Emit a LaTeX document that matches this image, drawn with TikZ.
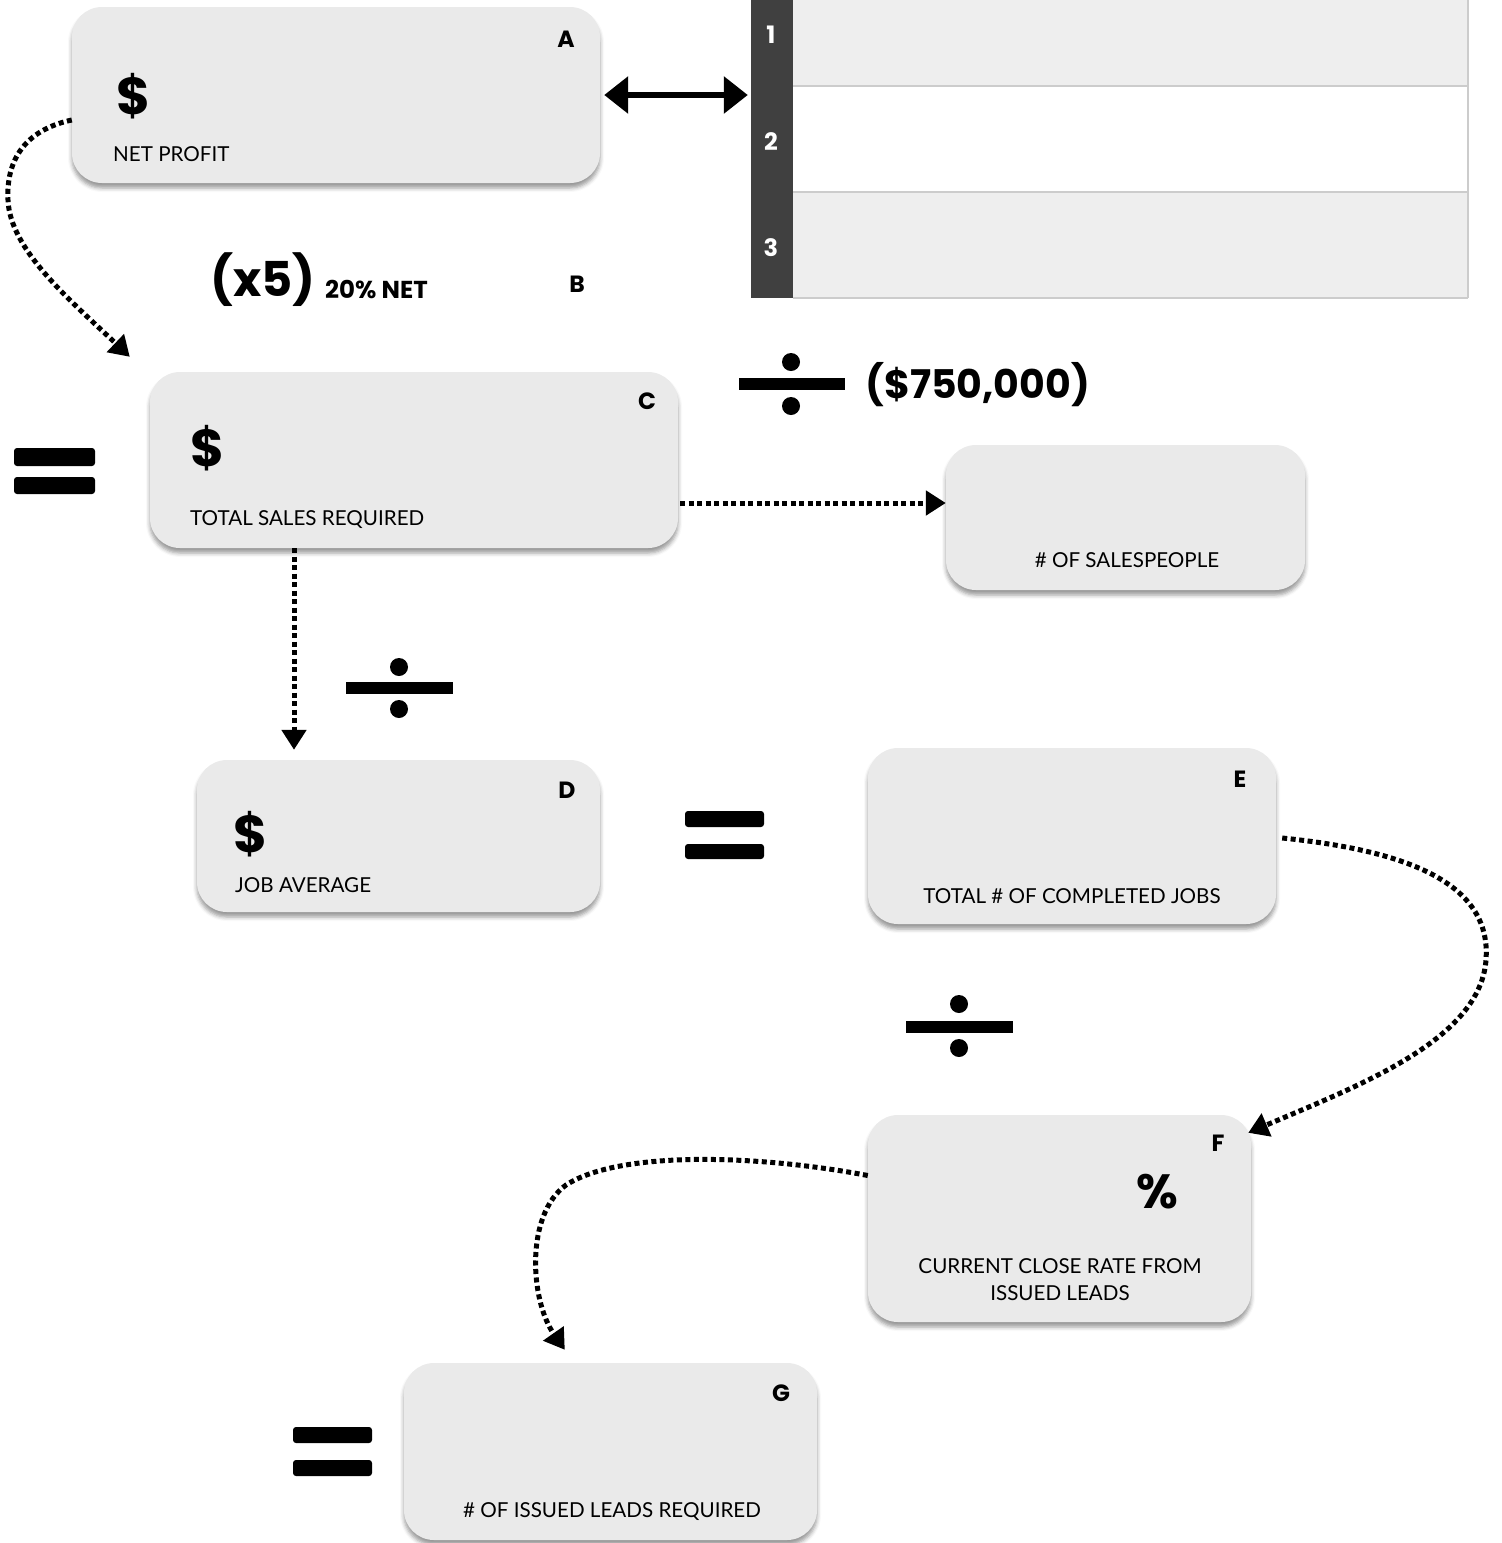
\documentclass[tikz,border=0pt]{standalone}
\usepackage{fontspec}
\setmainfont{Lato}
\newfontfamily\heavyfont{Poppins}
\usetikzlibrary{arrows.meta,shadows.blur}
\definecolor{cardgray}{HTML}{EAEAEA}
\definecolor{rowgray}{HTML}{EEEEEE}
\definecolor{rowline}{HTML}{CCCCCC}
\definecolor{bardark}{HTML}{404040}

\begin{document}
\begin{tikzpicture}[x=1pt,y=-1pt,
  card/.style={rounded corners=30pt, fill=cardgray, inner sep=0pt,
    blur shadow={shadow xshift=0pt, shadow yshift=-5pt, shadow blur radius=4pt, shadow opacity=40}},
  cell/.style={inner sep=0pt, minimum width=675pt},
  letter/.style={inner sep=0pt, font=\heavyfont\fontsize{23.5}{26}\selectfont\bfseries},
  num/.style={inner sep=0pt, text=white, font=\heavyfont\fontsize{24}{26}\selectfont\bfseries},
  money/.style={inner sep=0pt, font=\heavyfont\fontsize{52}{56}\selectfont\bfseries},
  caption/.style={inner sep=0pt, font=\fontsize{20.6}{27}\selectfont},
  bigop/.style={inner sep=0pt, font=\heavyfont\fontsize{48}{52}\selectfont\bfseries},
  flow/.style={line width=5pt, dash pattern=on 5pt off 3.5pt, -{Triangle[length=20pt,width=24pt]}},
  both/.style={line width=6pt, {Triangle[length=24pt,width=36pt]}-{Triangle[length=24pt,width=36pt]}},
  sign/.style={fill=black}
]
\useasboundingbox (0,0) rectangle (1502,1543);

% ---- numbered table, top right ----
\node[cell, fill=rowgray, minimum height=86pt] (r1) at (1130.5,43) {};
\node[cell, fill=white, minimum height=106pt] (r2) at (1130.5,139) {};
\node[cell, fill=rowgray, minimum height=106pt] (r3) at (1130.5,245) {};
\draw[rowline, line width=1.5pt] (r1.south west) -- (r1.south east);
\draw[rowline, line width=1.5pt] (r2.south west) -- (r2.south east);
\draw[rowline, line width=1.5pt] (r3.south west) -- (r3.south east);
\draw[rowline, line width=1.5pt] (r1.north east) -- (r3.south east);
\node[fill=bardark, inner sep=0pt, minimum width=42pt, minimum height=298pt] (bar) at (772,149) {};
\node[num] (n1) at (771,35) {1};
\node[num] (n2) at (771,142) {2};
\node[num] (n3) at (771,248) {3};

% ---- cards ----
\node[card, minimum width=528pt, minimum height=176pt] (A) at (336,95) {};
\node[card, minimum width=528pt, minimum height=176pt] (C) at (414,460) {};
\node[card, minimum width=359pt, minimum height=145pt] (S) at (1125.5,517.5) {};
\node[card, minimum width=403pt, minimum height=152pt] (D) at (398.5,836) {};
\node[card, minimum width=408pt, minimum height=176pt] (E) at (1072,836) {};
\node[card, minimum width=383pt, minimum height=207pt] (F) at (1059.5,1218.5) {};
\node[card, minimum width=413pt, minimum height=177pt] (G) at (610.5,1451.5) {};

% ---- card contents ----
\node[letter] (la) at (566,39) {A};
\node[money] (da) at (134,96) {\$};
\node[caption, anchor=west] (ta) at (113,154) {NET PROFIT};

\node[bigop, anchor=west] (x5) at (210,280) {(x5)};
\node[inner sep=0pt, anchor=west, font=\heavyfont\fontsize{24.5}{26}\selectfont\bfseries] (net) at (325,289) {20\% NET};
\node[letter] (lb) at (577,284) {B};

\node[letter] (lc) at (647,401) {C};
\node[money] (dc) at (208,448) {\$};
\node[caption, anchor=west] (tc) at (190,520) {TOTAL SALES REQUIRED};

\node[inner sep=0pt, anchor=west, font=\heavyfont\fontsize{39.5}{44}\selectfont\bfseries] (div) at (865,385) {(\$750,000)};
\node[caption] (ts) at (1127,560) {\# OF SALESPEOPLE};

\node[letter] (ld) at (567,790) {D};
\node[money] (dd) at (251,834) {\$};
\node[caption, anchor=west] (td) at (235,885) {JOB AVERAGE};

\node[letter] (le) at (1240,779) {E};
\node[caption] (te) at (1072,896) {TOTAL \# OF COMPLETED JOBS};

\node[letter] (lf) at (1218,1143) {F};
\node[money, font=\heavyfont\fontsize{48}{50}\selectfont\bfseries] (pf) at (1157,1192) {\%};
\node[caption, align=center] (tf) at (1060,1279.5) {CURRENT CLOSE RATE FROM\\ISSUED LEADS};

\node[letter] (lg) at (781,1393) {G};
\node[caption] (tg) at (612,1512) {\# OF ISSUED LEADS REQUIRED};

% ---- operator signs ----
\fill[sign, rounded corners=3pt] (14,448) rectangle (95,466);
\fill[sign, rounded corners=3pt] (14,477) rectangle (95,494);
\fill[sign, rounded corners=3pt] (685,811) rectangle (764,827);
\fill[sign, rounded corners=3pt] (685,844) rectangle (764,859);
\fill[sign, rounded corners=3pt] (293,1427) rectangle (372,1443);
\fill[sign, rounded corners=3pt] (293,1460) rectangle (372,1476);

\fill[sign] (739,378) rectangle (845,390);
\fill[sign] (791,362) circle[radius=9pt];
\fill[sign] (791,406) circle[radius=9pt];
\fill[sign] (346,682) rectangle (453,694);
\fill[sign] (399,667) circle[radius=9pt];
\fill[sign] (399,709) circle[radius=9pt];
\fill[sign] (906,1021) rectangle (1013,1033);
\fill[sign] (959,1004) circle[radius=9pt];
\fill[sign] (959,1048) circle[radius=9pt];

% ---- connectors ----
\draw[both, shorten <=4pt, shorten >=3pt] (A.east) -- (A.east -| bar.west);

\coordinate (cTip) at ([xshift=-20pt,yshift=15pt]C.north west);
\draw[flow] ([yshift=-25pt]A.west) .. controls (25,130) and (6,160) .. (8,200)
  .. controls (10,250) and (70,300) .. (cTip);

\coordinate (cOut) at ([yshift=-43pt]C.east);
\draw[flow] ([xshift=2pt]cOut) -- (cOut -| S.west);

\coordinate (cDown) at ([xshift=-120pt]C.south);
\draw[flow] (cDown) -- ([yshift=10pt]cDown |- D.north);

\coordinate (fTip) at ([xshift=-3pt,yshift=-18pt]F.north east);
\draw[flow] ([xshift=6pt,yshift=-2pt]E.east) .. controls (1400,850) and (1492,880) .. (1486,960)
  .. controls (1480,1040) and (1360,1085) .. (fTip);

\coordinate (gTip) at ([xshift=161pt,yshift=13pt]G.north west);
\draw[flow] ([yshift=43pt]F.west) .. controls (760,1155) and (620,1150) .. (566,1185)
  .. controls (525,1215) and (530,1300) .. (gTip);
\end{tikzpicture}
\end{document}
